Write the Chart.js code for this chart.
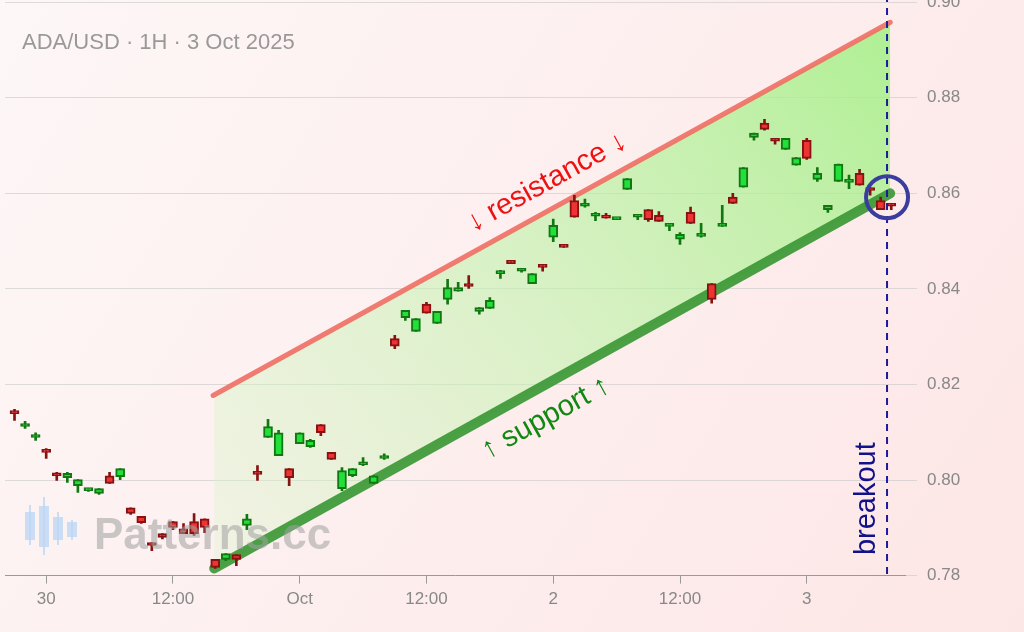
<!DOCTYPE html>
<html>
<head>
<meta charset="utf-8">
<script src="https://cdn.jsdelivr.net/npm/chart.js@4.4.1/dist/chart.umd.min.js"></script>
<style>
  html, body { margin: 0; padding: 0; overflow: hidden; background: #fdf5f5; }
  #wrap { position: relative; width: 1024px; height: 632px; overflow: hidden; }
  #wrap canvas { position: absolute; left: 0; top: -18px; }
</style>
</head>
<body>
<div id="wrap"><canvas id="grafico" width="1024" height="650"></canvas></div>
<script>
// hours from 30 Sep 00:00
const horas = [-3,-2,-1,0,1,2,3,4,5,6,7,8,9,10,11,12,13,14,15,16,17,18,19,20,21,22,23,24,25,26,27,28,29,30,31,32,
  33,34,35,36,37,38,39,40,41,42,43,44,45,46,47,48,49,50,51,52,53,54,55,56,57,58,59,60,61,62,63,64,65,66,67,68,69,70,71,72,73,74,75,76,77,78,79,80];
const abre = [.8143,.8112,.8089,.8062,.8014,.8005,.7988,.7978,.7972,.8009,.8007,.7942,.7924,.7867,.7888,.7913,.7898,.7913,.7919,.7834,.7834,.7844,.7905,.8016,.8089,.8051,.8024,.8076,.8070,.8116,.8058,.7982,.8009,.8032,.7993,.8045,
  .8296,.8340,.8311,.8368,.8328,.8378,.8395,.8409,.8353,.8359,.8432,.8460,.8437,.8411,.8451,.8508,.8491,.8585,.8573,.8552,.8552,.8545,.8608,.8550,.8566,.8554,.8531,.8504,.8560,.8510,.8411,.8531,.8592,.8613,.8717,.8747,.8713,.8692,.8659,.8711,.8629,.8566,.8625,.8623,.8642,.8610,.8585,.8577];
const fecha = [.8139,.8116,.8093,.8058,.8009,.8014,.8001,.7980,.7982,.7993,.8024,.7930,.7911,.7863,.7880,.7901,.7888,.7888,.7901,.7817,.7846,.7834,.7919,.8012,.8112,.8099,.8005,.8099,.8083,.8099,.8043,.8020,.8024,.8035,.8009,.8047,
  .8280,.8355,.8338,.8349,.8353,.8403,.8403,.8405,.8361,.8376,.8437,.8453,.8443,.8432,.8445,.8533,.8487,.8550,.8575,.8556,.8548,.8548,.8631,.8556,.8545,.8541,.8535,.8514,.8537,.8512,.8378,.8533,.8579,.8654,.8726,.8734,.8709,.8715,.8675,.8673,.8642,.8575,.8661,.8627,.8617,.8606,.8566,.8573];
const maxima = [.8148,.8123,.8099,.8066,.8016,.8016,.8001,.7982,.7982,.8016,.8024,.7942,.7924,.7869,.7888,.7913,.7909,.7930,.7919,.7834,.7846,.7844,.7928,.8030,.8127,.8104,.8024,.8099,.8085,.8116,.8058,.8026,.8024,.8047,.8009,.8055,
  .8303,.8355,.8338,.8372,.8353,.8420,.8414,.8428,.8361,.8382,.8439,.8460,.8443,.8432,.8451,.8546,.8491,.8596,.8588,.8560,.8558,.8548,.8631,.8556,.8566,.8562,.8535,.8518,.8571,.8537,.8411,.8575,.8600,.8654,.8726,.8755,.8713,.8715,.8675,.8715,.8654,.8575,.8661,.8638,.8650,.8612,.8592,.8579];
const minimas = [.8125,.8108,.8083,.8045,.7999,.7995,.7974,.7976,.7970,.7993,.8001,.7928,.7909,.7852,.7877,.7896,.7888,.7884,.7890,.7815,.7831,.7821,.7896,.7999,.8089,.8051,.7988,.8076,.8068,.8093,.8043,.7978,.8007,.8030,.7993,.8043,
  .8275,.8334,.8311,.8349,.8328,.8368,.8395,.8401,.8347,.8359,.8422,.8453,.8435,.8411,.8437,.8499,.8487,.8550,.8571,.8543,.8548,.8545,.8608,.8545,.8541,.8541,.8522,.8493,.8537,.8508,.8370,.8531,.8579,.8613,.8711,.8732,.8703,.8692,.8659,.8671,.8625,.8560,.8625,.8610,.8617,.8596,.8566,.8566];

const resistencia = [{ x: 15.8, y: 0.8177 }, { x: 79.9, y: 0.8958 }];
const suporte = [{ x: 15.9, y: 0.7815 }, { x: 79.9, y: 0.8600 }];
const rompimento = { x: 79.6, y: 0.8592 };

const rotulosX = { 0: "30", 12: "12:00", 24: "Oct", 36: "12:00", 48: "2", 60: "12:00", 72: "3" };
const ticksY = [0.78, 0.80, 0.82, 0.84, 0.86, 0.88, 0.90];

const alta = horas.map((_, i) => fecha[i] >= abre[i]);
const pavios = horas.map((h, i) => ({ x: h, y: [minimas[i], maxima[i]] }));
const corpos = horas.map((h, i) => ({ x: h, y: [abre[i], fecha[i]] }));

const fundo = {
  id: "fundo",
  beforeDraw(chart) {
    const { ctx, width, height } = chart;
    const g = ctx.createLinearGradient(0, 0, width, height);
    g.addColorStop(0, "#fdf7f7");
    g.addColorStop(1, "#fde6e6");
    ctx.save();
    ctx.fillStyle = g;
    ctx.fillRect(0, 0, width, height);
    ctx.restore();
  }
};

const anotacoes = {
  id: "anotacoes",
  afterDatasetsDraw(chart) {
    const { ctx, scales: { x, y }, chartArea } = chart;
    const ang = Math.atan2(y.getPixelForValue(resistencia[1].y) - y.getPixelForValue(resistencia[0].y),
      x.getPixelForValue(resistencia[1].x) - x.getPixelForValue(resistencia[0].x));
    ctx.save();
    // watermark
    ctx.fillStyle = "rgba(190,215,245,0.8)";
    [[30, 505, 545, 512, 540], [44, 497, 555, 506, 547], [58, 512, 545, 517, 540], [72, 520, 540, 522, 537]].forEach(c => {
      ctx.fillRect(c[0] - 1, c[1] + 18, 2, c[2] - c[1]);
      ctx.fillRect(c[0] - 5, c[3] + 18, 10, c[4] - c[3]);
    });
    ctx.font = "bold 44px 'Liberation Sans', Arial, sans-serif";
    ctx.fillStyle = "rgba(160,160,160,0.55)";
    ctx.textBaseline = "middle";
    ctx.fillText("Patterns.cc", 94, 555);

    ctx.font = "22px 'Liberation Sans', Arial, sans-serif";
    ctx.fillStyle = "#999";
    ctx.fillText("ADA/USD · 1H · 3 Oct 2025", 22, 61);

    ctx.font = "29px 'Liberation Sans', Arial, sans-serif";
    ctx.textAlign = "center";
    ctx.save();
    ctx.translate(x.getPixelForValue(47.4), y.getPixelForValue(0.8623));
    ctx.rotate(ang);
    ctx.fillStyle = "#ee1111";
    ctx.fillText("↓ resistance ↓", 0, 0);
    ctx.restore();
    ctx.save();
    ctx.translate(x.getPixelForValue(47.3), y.getPixelForValue(0.8130));
    ctx.rotate(ang);
    ctx.fillStyle = "#118811";
    ctx.fillText("↑ support ↑", 0, 0);
    ctx.restore();

    // breakout line and circle
    const bx = x.getPixelForValue(rompimento.x);
    ctx.strokeStyle = "#1a1a9a";
    ctx.lineWidth = 2;
    ctx.setLineDash([7, 6]);
    ctx.beginPath();
    ctx.moveTo(bx, 0);
    ctx.lineTo(bx, chartArea.bottom);
    ctx.stroke();
    ctx.setLineDash([]);
    ctx.strokeStyle = "#3b3d9e";
    ctx.lineWidth = 4;
    ctx.beginPath();
    ctx.arc(bx, y.getPixelForValue(rompimento.y), 21, 0, Math.PI * 2);
    ctx.stroke();

    ctx.save();
    ctx.translate(bx - 20, y.getPixelForValue(0.7961));
    ctx.rotate(-Math.PI / 2);
    ctx.fillStyle = "#11118a";
    ctx.fillText("breakout", 0, 0);
    ctx.restore();
    ctx.restore();
  }
};

new Chart(document.getElementById("grafico").getContext("2d"), {
  type: "bar",
  data: {
    datasets: [
      {
        type: "line", label: "resistance", data: resistencia,
        borderColor: "rgba(240,110,100,0.9)", borderWidth: 5, pointRadius: 0, order: 4,
        borderCapStyle: "round"
      },
      {
        type: "line", label: "support", data: suporte,
        borderColor: "rgba(55,150,50,0.9)", borderWidth: 10, pointRadius: 0, order: 5,
        borderCapStyle: "round",
        fill: { target: 0 },
        backgroundColor: (c) => {
          const a = c.chart.chartArea;
          if (!a) return "rgba(180,240,150,0.5)";
          const g = c.chart.ctx.createLinearGradient(a.left + 210, a.bottom, a.right - 20, a.top);
          g.addColorStop(0, "rgba(220,245,205,0.35)");
          g.addColorStop(1, "rgba(160,240,130,0.85)");
          return g;
        }
      },
      {
        label: "wick", data: pavios, barThickness: 2, grouped: false, order: 2,
        backgroundColor: alta.map(u => u ? "#117711" : "#881111"), borderWidth: 0
      },
      {
        label: "body", data: corpos, barThickness: 9, grouped: false, order: 1,
        backgroundColor: alta.map(u => u ? "#22e03a" : "#ee3333"),
        borderColor: alta.map(u => u ? "#117711" : "#881111"),
        borderWidth: 2, borderSkipped: false, minBarLength: 3
      }
    ]
  },
  options: {
    responsive: false,
    animation: false,
    layout: { padding: { left: 5, bottom: 16 } },
    plugins: { legend: { display: false }, tooltip: { enabled: false } },
    scales: {
      x: {
        type: "linear", min: -3.9, max: 81.3, offset: false,
        afterBuildTicks: (s) => { s.ticks = Object.keys(rotulosX).map(v => ({ value: +v })); },
        ticks: { callback: (v) => rotulosX[v] || "", color: "#888", font: { size: 17, family: "'Liberation Sans', Arial" }, padding: 6, maxRotation: 0, autoSkip: false },
        grid: { drawOnChartArea: false, offset: false, color: "#999", tickLength: 8 },
        border: { color: "#999" }
      },
      y: {
        position: "right", min: 0.78, max: 0.90,
        afterBuildTicks: (s) => { s.ticks = ticksY.map(v => ({ value: v })); },
        afterFit: (s) => { s.width = 119; },
        ticks: { callback: (v) => v.toFixed(2), color: "#888", font: { size: 17, family: "'Liberation Sans', Arial" }, padding: 10 },
        grid: { color: "rgba(200,200,200,0.6)", tickLength: 12 },
        border: { display: false }
      }
    }
  },
  plugins: [fundo, anotacoes]
});
</script>
</body>
</html>
